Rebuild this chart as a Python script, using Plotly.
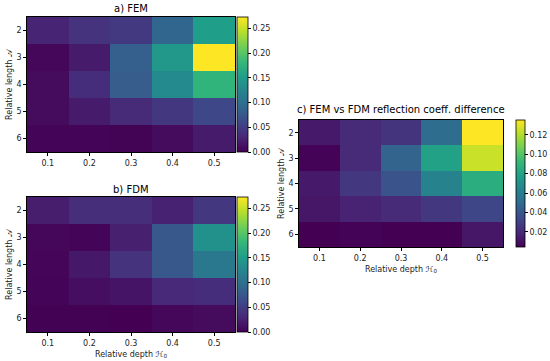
import plotly.graph_objects as go

depths = [0.1, 0.2, 0.3, 0.4, 0.5]
lengths = [2, 3, 4, 5, 6]

fem = [
    [0.027, 0.040, 0.046, 0.090, 0.152],
    [0.005, 0.020, 0.082, 0.145, 0.273],
    [0.008, 0.035, 0.080, 0.130, 0.177],
    [0.008, 0.020, 0.033, 0.045, 0.060],
    [0.003, 0.003, 0.002, 0.008, 0.020],
]
fdm = [
    [0.022, 0.036, 0.036, 0.025, 0.045],
    [0.005, 0.003, 0.024, 0.074, 0.137],
    [0.004, 0.018, 0.040, 0.074, 0.110],
    [0.003, 0.010, 0.015, 0.030, 0.035],
    [0.001, 0.001, 0.000, 0.005, 0.008],
]
diff = [
    [0.013, 0.020, 0.024, 0.051, 0.1355],
    [0.005, 0.020, 0.046, 0.079, 0.125],
    [0.013, 0.026, 0.038, 0.063, 0.086],
    [0.012, 0.017, 0.020, 0.026, 0.032],
    [0.004, 0.005, 0.004, 0.004, 0.012],
]

W, H = 550, 361
FONT = "DejaVu Sans"

def px_x(p):
    return p / W

def px_y(p):
    return 1 - p / H

fig = go.Figure()

panels = [
    (fem, 27, 235, 17, 152, 0.0, 0.273, 237, 11, [0, 0.05, 0.10, 0.15, 0.20, 0.25]),
    (fdm, 27, 235, 197, 332, 0.0, 0.273, 237, 11, [0, 0.05, 0.10, 0.15, 0.20, 0.25]),
    (diff, 299, 503, 120, 247, 0.0042, 0.1355, 516, 9, [0.02, 0.04, 0.06, 0.08, 0.10, 0.12]),
]

axis_common = dict(
    showline=True, linecolor="black", linewidth=0.8, mirror=True,
    ticks="outside", ticklen=3, tickcolor="black", tickwidth=0.8,
    showgrid=False, zeroline=False,
    tickfont=dict(family=FONT, size=8, color="#222"),
)

for i, (z, x0, x1, yt, yb, zmin, zmax, cbx, cbw, cbt) in enumerate(panels):
    n = "" if i == 0 else str(i + 1)
    fig.add_trace(go.Heatmap(
        z=z, x=depths, y=lengths,
        colorscale="Viridis", zmin=zmin, zmax=zmax,
        xaxis="x" + n, yaxis="y" + n,
        colorbar=dict(
            x=px_x(cbx), xanchor="left", xpad=0, ypad=0,
            y=px_y((yt + yb) / 2), yanchor="middle",
            len=(yb - yt) / H, lenmode="fraction",
            thickness=cbw, thicknessmode="pixels",
            outlinewidth=0.8, outlinecolor="black",
            ticks="outside", ticklen=3, tickcolor="black",
            tickvals=cbt, ticktext=["%.2f" % v for v in cbt],
            tickfont=dict(family=FONT, size=8, color="#222"),
        ),
    ))
    xa = dict(axis_common, domain=[px_x(x0), px_x(x1)], range=[0.05, 0.55],
              tickvals=depths, ticktext=["0.1", "0.2", "0.3", "0.4", "0.5"],
              anchor="y" + n)
    ya = dict(axis_common, domain=[px_y(yb), px_y(yt)], range=[6.5, 1.5],
              tickvals=lengths, ticktext=[str(v) for v in lengths],
              anchor="x" + n,
              title=dict(text="Relative length 𝒜", standoff=2,
                         font=dict(family=FONT, size=8, color="#222")))
    if i != 0:
        xa["title"] = dict(text="Relative depth ℋ<sub>0</sub>", standoff=4,
                           font=dict(family=FONT, size=8, color="#222"))
    fig.layout["xaxis" + n] = xa
    fig.layout["yaxis" + n] = ya

titles = [
    ("a) FEM", 131, 9),
    ("b) FDM", 131, 189),
    ("c) FEM vs FDM reflection coeff. difference", 401, 110),
]
for text, cx, cy in titles:
    fig.add_annotation(text=text, x=px_x(cx), y=px_y(cy), xref="paper", yref="paper",
                       showarrow=False, xanchor="center", yanchor="middle",
                       font=dict(family=FONT, size=10, color="black"))

fig.update_layout(
    width=W, height=H, margin=dict(l=0, r=0, t=0, b=0, autoexpand=False),
    paper_bgcolor="white", plot_bgcolor="white",
    font=dict(family=FONT),
)

fig.write_html(
    "out.html",
    config={"displayModeBar": False},
    post_script="document.body.style.margin='0';document.body.style.overflow='hidden';",
)
